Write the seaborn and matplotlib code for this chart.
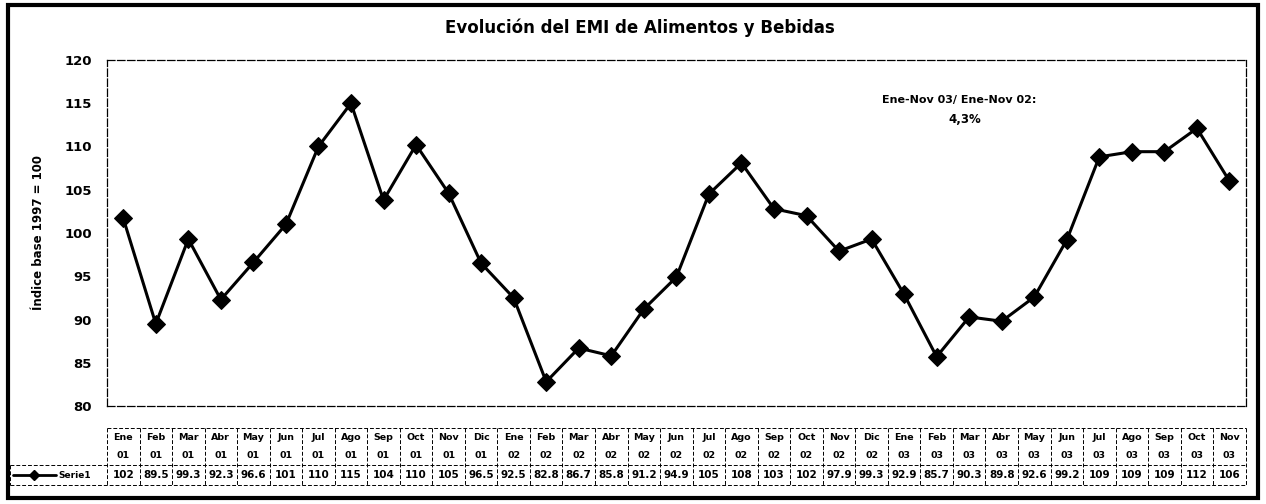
import numpy as np
import pandas as pd
import matplotlib.pyplot as plt
import seaborn as sns
from matplotlib.patches import Rectangle
from matplotlib.lines import Line2D

sns.set_style("white")
plt.rcParams['font.family'] = ['DejaVu Sans']
plt.rcParams['text.color'] = 'black'
plt.rcParams['axes.labelcolor'] = 'black'
plt.rcParams['ytick.color'] = 'black'

# datos
meses = ["Ene", "Feb", "Mar", "Abr", "May", "Jun", "Jul", "Ago", "Sep", "Oct", "Nov", "Dic"]
anios = ["01", "02", "03"]
etiquetas_mes = [m for a in anios for m in meses][:35]
etiquetas_anio = [a for a in anios for m in meses][:35]
valores = [101.7, 89.5, 99.3, 92.3, 96.6, 101.0, 110.0, 115.0, 103.8, 110.2, 104.6, 96.5,
           92.5, 82.8, 86.7, 85.8, 91.2, 94.9, 104.5, 108.1, 102.8, 102.0, 97.9, 99.3,
           92.9, 85.7, 90.3, 89.8, 92.6, 99.2, 108.8, 109.4, 109.4, 112.1, 106.0]
valores_tabla = ["102", "89.5", "99.3", "92.3", "96.6", "101", "110", "115", "104", "110", "105", "96.5",
                 "92.5", "82.8", "86.7", "85.8", "91.2", "94.9", "105", "108", "103", "102", "97.9", "99.3",
                 "92.9", "85.7", "90.3", "89.8", "92.6", "99.2", "109", "109", "109", "112", "106"]

df = pd.DataFrame({"pos": np.arange(len(valores)), "valor": valores})

fig = plt.figure(figsize=(12.66, 5.04), dpi=100)
ax = fig.add_axes([0.0845, 0.1944, 0.8995, 0.6866])

sns.lineplot(data=df, x="pos", y="valor", ax=ax, color="black", lw=2.2,
             marker="D", markersize=9, markeredgecolor="black")

ax.set_xlim(-0.5, len(valores) - 0.5)
ax.set_ylim(80, 120)
ax.set_yticks(range(80, 121, 5))
ax.set_xticks([])
ax.set_xlabel("")
ax.set_ylabel("Índice base 1997 = 100", fontsize=8.5, fontweight="bold", labelpad=14)
for t in ax.get_yticklabels():
    t.set_fontweight("bold")
    t.set_fontsize(9.5)
ax.tick_params(axis="y", length=3, width=0.8, color="black", direction="out", pad=8)
for s in ax.spines.values():
    s.set_linestyle((0, (6, 2)))
    s.set_linewidth(0.9)
    s.set_color("black")

fig.text(0.5055, 0.944, "Evolución del EMI de Alimentos y Bebidas", ha="center", va="center",
         fontsize=12, fontweight="bold")
ax.text(0.748, 0.885, "Ene-Nov 03/ Ene-Nov 02:", transform=ax.transAxes, ha="center",
        va="center", fontsize=8, fontweight="bold")
ax.text(0.753, 0.828, "4,3%", transform=ax.transAxes, ha="center",
        va="center", fontsize=8.5, fontweight="bold")

# tabla de datos
tr = ax.get_xaxis_transform()
y_top, y_mid, y_bot = -0.0636, -0.1705, -0.2283
x_izq = -0.5 - 97 / 32.54
lk = dict(color="black", lw=0.7, ls=(0, (4, 2)), transform=tr, clip_on=False)
ax.add_line(Line2D([-0.5, 34.5], [y_top, y_top], **lk))
ax.add_line(Line2D([x_izq, 34.5], [y_mid, y_mid], **lk))
ax.add_line(Line2D([x_izq, 34.5], [y_bot, y_bot], **lk))
ax.add_line(Line2D([x_izq, x_izq], [y_mid, y_bot], **lk))
for i in range(len(valores) + 1):
    ax.add_line(Line2D([i - 0.5, i - 0.5], [y_top, y_bot], **lk))
for i in range(len(valores)):
    ax.text(i, -0.0896, etiquetas_mes[i], transform=tr, ha="center", va="center",
            fontsize=6.8, fontweight="bold")
    ax.text(i, -0.1416, etiquetas_anio[i], transform=tr, ha="center", va="center",
            fontsize=6.8, fontweight="bold")
    ax.text(i, -0.1994, valores_tabla[i], transform=tr, ha="center", va="center",
            fontsize=7.5, fontweight="bold")

# clave de la serie
ax.add_line(Line2D([x_izq + 0.1, x_izq + 0.75, x_izq + 1.4], [-0.1994] * 3, color="black", lw=2,
                   marker="D", markersize=5.5, markevery=[1], transform=tr, clip_on=False))
ax.text(x_izq + 1.5, -0.1994, "Serie1", transform=tr, ha="left", va="center",
        fontsize=6.5, fontweight="bold")

# marco exterior
fig.patches.append(Rectangle((0.006, 0.012), 0.988, 0.978, transform=fig.transFigure,
                             fill=False, ec="black", lw=3))

fig.savefig("out.png", dpi=100)
